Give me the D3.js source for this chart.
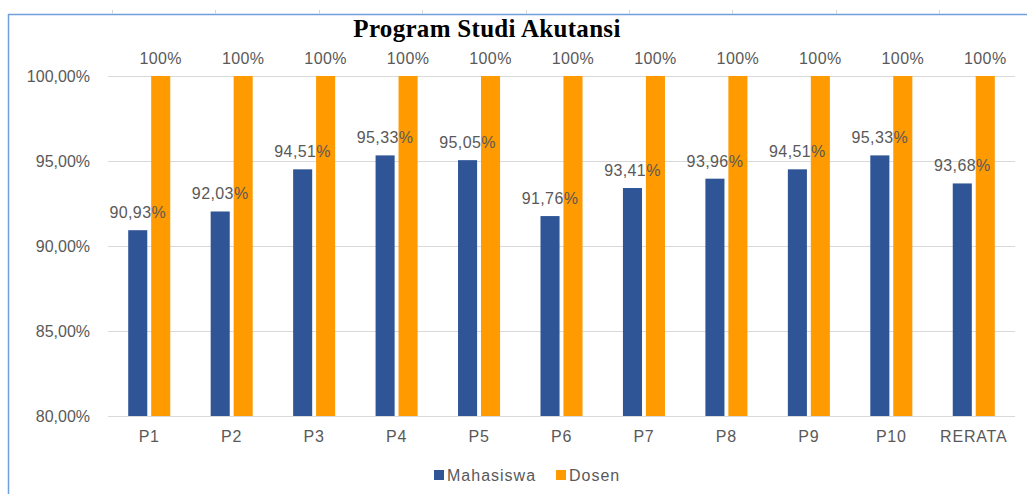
<!DOCTYPE html>
<html>
<head>
<meta charset="utf-8">
<script src="https://cdn.jsdelivr.net/npm/d3@7"></script>
<style>
  body { margin: 0; background: #fff; }
  svg { display: block; }
</style>
</head>
<body>
<div id="chart"></div>
<script>
// data
var categories = ["P1", "P2", "P3", "P4", "P5", "P6", "P7", "P8", "P9", "P10", "RERATA"];
var seriesNames = ["Mahasiswa", "Dosen"];
var mahasiswa = [90.93, 92.03, 94.51, 95.33, 95.05, 91.76, 93.41, 93.96, 94.51, 95.33, 93.68];
var dosen = [100, 100, 100, 100, 100, 100, 100, 100, 100, 100, 100];
var yTicks = [80, 85, 90, 95, 100];
var colors = ["#2F5597", "#FF9A00"];

var W = 1027, H = 494;
var margin = {top: 76, right: 12, bottom: 78, left: 108};

var svg = d3.select("#chart")
  .append("svg")
  .attr("width", W)
  .attr("height", H);

// outer frame (sheet border lines)
svg.append("line")
  .attr("x1", 8.5).attr("x2", 8.5).attr("y1", 14).attr("y2", H)
  .attr("stroke", "#6FA0DC").attr("stroke-width", 1.5);
svg.append("line")
  .attr("x1", 8).attr("x2", W).attr("y1", 14.5).attr("y2", 14.5)
  .attr("stroke", "#6FA0DC").attr("stroke-width", 1.5);
d3.range(112, W, 103.4).forEach(function(x) {
  svg.append("line")
    .attr("x1", Math.round(x) + 0.5).attr("x2", Math.round(x) + 0.5)
    .attr("y1", 10).attr("y2", 14)
    .attr("stroke", "#d4d4d4");
});

var g = svg.append("g");

var x0 = d3.scaleBand()
  .domain(categories)
  .range([margin.left, W - margin.right]);

var x1 = d3.scaleBand()
  .domain(seriesNames)
  .range([0, x0.bandwidth()])
  .paddingInner(0.17)
  .paddingOuter(0.88);

var y = d3.scaleLinear()
  .domain([80, 100])
  .range([H - margin.bottom, margin.top]);

var fmt = function(v) { return v.toFixed(2).replace(".", ",") + "%"; };
var font = "'Liberation Sans', Arial, sans-serif";

// grid + y labels
var yAxis = g.append("g")
  .attr("transform", "translate(" + margin.left + ",0)")
  .call(d3.axisLeft(y).tickValues(yTicks).tickSize(-(W - margin.right - margin.left)).tickFormat(fmt));
yAxis.select(".domain").remove();
yAxis.selectAll(".tick line").attr("stroke", "#d9d9d9");
yAxis.selectAll(".tick text")
  .attr("x", -18)
  .attr("fill", "#595959")
  .style("font-family", font)
  .style("font-size", "16px");

// x labels
var xAxis = g.append("g")
  .attr("transform", "translate(0," + (H - margin.bottom) + ")")
  .call(d3.axisBottom(x0).tickSize(0));
xAxis.select(".domain").remove();
xAxis.selectAll(".tick text")
  .attr("y", 15)
  .attr("fill", "#595959")
  .style("font-family", font)
  .style("font-size", "16px")
  .style("letter-spacing", "0.8px");

var rows = categories.map(function(c, i) {
  return {cat: c, vals: [mahasiswa[i], dosen[i]]};
});

var groups = g.selectAll(".grp")
  .data(rows)
  .enter()
  .append("g")
  .attr("transform", function(d) { return "translate(" + x0(d.cat) + ",0)"; });

groups.selectAll("rect")
  .data(function(d) { return d.vals.map(function(v, j) { return {s: seriesNames[j], v: v, j: j}; }); })
  .enter()
  .append("rect")
  .attr("x", function(d) { return x1(d.s); })
  .attr("y", function(d) { return y(d.v); })
  .attr("width", x1.bandwidth())
  .attr("height", function(d) { return y(80) - y(d.v); })
  .attr("fill", function(d) { return colors[d.j]; });

groups.selectAll("text")
  .data(function(d) { return d.vals.map(function(v, j) { return {s: seriesNames[j], v: v, j: j}; }); })
  .enter()
  .append("text")
  .attr("x", function(d) { return x1(d.s) + x1.bandwidth() / 2; })
  .attr("y", function(d) { return y(d.v) - 12; })
  .attr("text-anchor", "middle")
  .attr("fill", "#595959")
  .style("font-family", font)
  .style("font-size", "16px")
  .style("letter-spacing", "0.4px")
  .text(function(d) { return d.j === 1 ? d.v + "%" : fmt(d.v); });

// title
svg.append("text")
  .attr("x", 487)
  .attr("y", 37)
  .attr("text-anchor", "middle")
  .style("font-family", "'Liberation Serif', 'Times New Roman', serif")
  .style("font-weight", "bold")
  .style("font-size", "25px")
  .style("letter-spacing", "0.3px")
  .attr("fill", "#000")
  .text("Program Studi Akutansi");

// legend
var legend = svg.append("g").attr("transform", "translate(434,468)");
var lx = [0, 122];
seriesNames.forEach(function(s, i) {
  legend.append("rect")
    .attr("x", lx[i]).attr("y", 2)
    .attr("width", 10).attr("height", 10)
    .attr("fill", colors[i]);
  legend.append("text")
    .attr("x", lx[i] + 13).attr("y", 12.5)
    .attr("fill", "#595959")
    .style("font-family", font)
    .style("font-size", "16px")
    .style("letter-spacing", "1px")
    .text(s);
});
</script>
</body>
</html>
